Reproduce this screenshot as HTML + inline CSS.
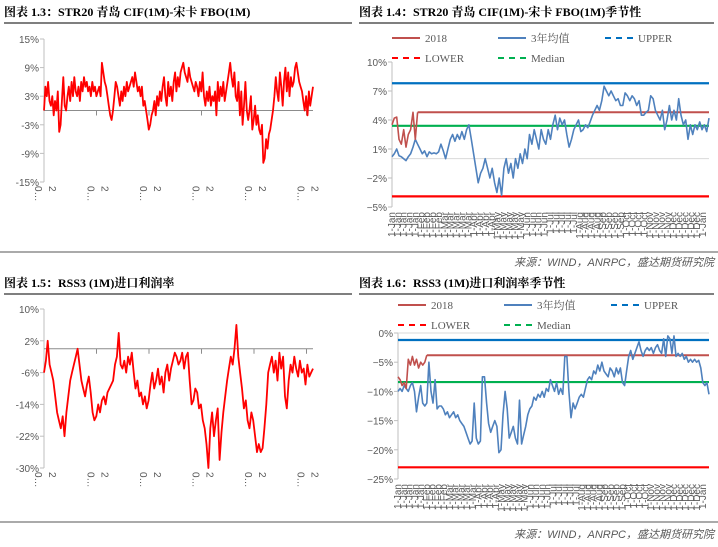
<!DOCTYPE html>
<html><head><meta charset="utf-8">
<style>
body{margin:0;background:#fff;}
svg{display:block;font-family:"Liberation Sans","Noto Sans CJK SC",sans-serif;}
.ttl{font-family:"Liberation Serif","Noto Serif CJK SC",serif;font-weight:bold;font-size:12px;fill:#000;}
.tk{font-size:10px;fill:#595959;}
.lg{font-family:"Liberation Serif","Noto Serif CJK SC",serif;font-size:11px;fill:#595959;}
.src{font-size:11px;fill:#595959;font-style:italic;}
</style></head>
<body>
<svg id="s" width="718" height="547" viewBox="0 0 718 547">
<text class="ttl" x="4" y="16">图表 1.3：STR20 青岛 CIF(1M)-宋卡 FBO(1M)</text>
<text class="ttl" x="359" y="16">图表 1.4：STR20 青岛 CIF(1M)-宋卡 FBO(1M)季节性</text>
<text class="ttl" x="4" y="287">图表 1.5：RSS3 (1M)进口利润率</text>
<text class="ttl" x="359" y="287">图表 1.6：RSS3 (1M)进口利润率季节性</text>
<line x1="4" y1="23" x2="352" y2="23" stroke="#555" stroke-width="1.5"/>
<line x1="359" y1="23" x2="714" y2="23" stroke="#555" stroke-width="1.5"/>
<line x1="4" y1="294" x2="352" y2="294" stroke="#555" stroke-width="1.5"/>
<line x1="359" y1="294" x2="714" y2="294" stroke="#555" stroke-width="1.5"/>
<line x1="0" y1="252" x2="718" y2="252" stroke="#555" stroke-width="1"/>
<line x1="0" y1="522" x2="718" y2="522" stroke="#555" stroke-width="1"/>
<text class="src" x="714" y="266" text-anchor="end">来源：WIND，ANRPC，盛达期货研究院</text>
<text class="src" x="714" y="538" text-anchor="end">来源：WIND，ANRPC，盛达期货研究院</text>
<g id="g"></g>
</svg>
<script>
const s13 = [0,5,3,6,2,1,3,-1,2,0,4,-4.5,-3,2,7,1,0,3,5,2,6,3,7,4,3,5,2,6,4,7,5,6,4,5,3,6,4,5,3,4,5,3,10,8,6,5,3,1,-1,-2,0,3,6,5,3,1,4,2,5,3,6,4,5,6,7,5,8,6,4,5,3,5,1,2,0,-2,-4,-3,-1,0,2,-1,3,1,4,2,5,7,3,1,6,3,5,2,6,8,4,7,5,8,9,10,8,7,6,9,7,6,5,4,6,5,3,6,4,8,3,1,4,2,5,1,3,2,4,-1,6,2,5,3,6,2,4,6,8,10,7,5,8,3,2,6,-1,4,-3,1,6,0,-2,0,3,-4,-2,1,-3,-1,-4,-5,-3,-11,-10,-6,-8,-5,-4,-2,0,3,7,4,2,8,5,1,6,9,4,8,3,7,5,6,9,10,8,6,5,4,2,0,3,-1,4,1,3,5];
const s15 = [-6,-3,2,-4,-6,-8,-12,-16,-18,-20,-17,-22,-16,-12,-8,-6,-4,-2,0,-4,-8,-10,-12,-9,-7,-11,-16,-18,-17,-14,-16,-13,-12,-14,-11,-10,-9,-8,-4,-2,4,-4,-5,-3,-6,-2,-4,-1,-6,-10,-8,-12,-11,-14,-12,-15,-13,-9,-6,-10,-8,-5,-9,-7,-11,-6,-4,-8,-5,-3,-1,-2,-4,-3,-1,-5,-2,-1,-8,-14,-13,-10,-11,-15,-14,-18,-20,-24,-30,-20,-16,-22,-18,-15,-28,-21,-16,-12,-8,-5,-2,-4,0,6,-2,-6,-10,-15,-13,-18,-20,-16,-18,-22,-26,-24,-26,-25,-20,-14,-6,-4,-2,-6,-3,-8,-1,-5,-2,-12,-15,-8,-4,-6,-2,-5,-7,-3,-6,-5,-9,-4,-7,-6,-5];
const avg14 = [0.2,0.5,1,0.3,0.2,0,-0.2,0.2,0.5,1.2,2,1.5,1,0.5,0.8,0.2,0.7,0.5,0.6,0.5,0.7,1.5,0.8,0,1,2,2.5,1.8,2.5,2,2.8,2,3,3.5,2,0.5,-1,-2.5,-1.5,-1,0,-1,-2,-1,-2.5,-3.5,-2,-3.8,-1,0,-1.5,-0.5,-2,0,-1,0.5,-0.5,1,0,2.5,1.5,3,2,1,3,2,1.5,3,2,3.5,4.5,3,4.2,3.5,4,2.5,1.2,2,3,3.5,4,2.8,3,3.5,3.2,3.8,4.5,5,5.5,5,6,7.5,7,6.5,7,6.5,6,6.2,5.5,5.5,6.8,6.5,6,6.5,6.2,5.5,6,4.5,4.5,4.8,5,6.5,6.2,5,4.5,4,5,3,4,5.5,4,5,4,6.2,4.5,3.5,4,2,3.5,2.5,3.5,3,3.8,3,3.5,2.8,4.2];
const y18_14 = [3.5,4.2,4.3,2,1.5,3,1.2,2.5,3,4.8,2,4.8];
const bands14 = [7.8, -3.9, 3.4];
const avg16 = [-10,-9.5,-10,-9,-9.5,-10,-9,-8.5,-10,-13.5,-11,-9,-12,-12.5,-12,-5,-10,-12,-8,-13,-12.5,-12.5,-13,-14,-13.5,-14.5,-14,-13.5,-14.5,-14,-15,-15.5,-16,-17,-18,-19,-18.5,-12,-18,-19,-18.5,-7.5,-7.5,-12,-15.5,-17,-16,-15,-16,-20.5,-20,-14,-10,-13,-18,-17,-16,-18,-19,-11.5,-19,-17.5,-16,-14,-13,-12.5,-11,-11.5,-10.5,-11,-10,-11,-9.5,-10,-8,-9,-10,-8.5,-10.5,-9.5,-10.5,-4,-4,-10,-14.5,-12,-13,-12,-11,-10.5,-11,-9.5,-8,-7.5,-8,-6.5,-7,-5.5,-6.5,-5,-6.5,-7,-7.5,-6,-6.5,-7.5,-6,-7,-6,-8.5,-9,-6.5,-4,-3,-4.5,-3.5,-2.5,-1.5,-3,-4,-3,-2.5,-3,-2.5,-3.5,-2.5,-2,-3,-3.5,-1,-4,-0.5,-1,-3.5,-0.5,-4,-3.5,-4,-3.5,-4.5,-4,-5,-4.5,-5,-4.5,-5,-4.7,-6,-8.5,-9,-8.5,-10.5];
const y18_16 = [-7.5,-8,-9,-8.5,-9.5,-4.5,-5.5,-4,-5.5,-4.5,-6,-5,-5.5,-5,-3.8];
const bands16 = [-1.2, -23, -8.4];
const ticks13 = ["15%","9%","3%","-3%","-9%","-15%"];
const ticks15 = ["10%","2%","-6%","-14%","-22%","-30%"];
const ticks14 = ["10%","7%","4%","1%","−2%","−5%"];
const ticks16 = ["0%","−5%","−10%","−15%","−20%","−25%"];
const months = ["Jan","Jan","Jan","Jan","Jan","Feb","Feb","Feb","Feb","Mar","Mar","Mar","Mar","Mar","Apr","Apr","Apr","Apr","May","May","May","May","May","Jun","Jun","Jun","Jun","Jul","Jul","Jul","Jul","Jul","Aug","Aug","Aug","Aug","Sep","Sep","Sep","Sep","Oct","Oct","Oct","Oct","Nov","Nov","Nov","Nov","Dec","Dec","Dec","Dec","Dec","Jan"];

const NS="http://www.w3.org/2000/svg", G=document.getElementById('g');
function mk(t,a){const e=document.createElementNS(NS,t);for(const k in a)e.setAttribute(k,a[k]);G.appendChild(e);return e;}
function scale(d0,d1,r0,r1){return v=>r0+(v-d0)/(d1-d0)*(r1-r0);}
function line(data,xs,ys,color,w,name,n){
  const pts=data.map((v,i)=>xs(i,n)+","+ys(v).toFixed(1)).join(" ");
  const e=mk('polyline',{points:pts,fill:'none',stroke:color,'stroke-width':w,'stroke-linejoin':'round'});
  
  
}
function yaxis(x,y0,y1,ticks,name){
  const a=mk('line',{x1:x,y1:y0,x2:x,y2:y1,stroke:'#bfbfbf'});
  
  
  ticks.forEach((t,i)=>{const y=y0+i*(y1-y0)/(ticks.length-1);
    mk('line',{x1:x-4,y1:y,x2:x,y2:y,stroke:'#bfbfbf'});
    const e=mk('text',{x:x-5,y:y+4,'text-anchor':'end',class:'tk'});e.textContent=t;
    
    });
}
function timeChart(data,x0,x1,y0,y1,dmin,dmax,ticks,zeroY,lblY,name){
  yaxis(x0,y0,y1,ticks,name);
  const ys=scale(dmax,dmin,y0,y1);
  const zy=ys(0);
  const z=mk('line',{x1:x0,y1:zy,x2:x1,y2:zy,stroke:'#8c8c8c'});
  
  
  for(let k=1;k<=5;k++){const tx=x0+k*52.5;mk('line',{x1:tx,y1:zy,x2:tx,y2:zy+5,stroke:'#8c8c8c'});}
  for(let k=0;k<6;k++){[["0…",-7],["2",7]].forEach(([t,dx])=>{
    const lx=x0+k*52.5+dx-2;const e=mk('text',{x:lx,y:lblY,class:'tk',transform:`rotate(90 ${lx} ${lblY})`});
    e.textContent=t;
    
    });}
  line(data,(i,n)=>(x0+i*(x1-x0)/(n-1)).toFixed(1),ys,'#ff0000',1.8,name+'-series',data.length);
}
timeChart(s13,44,313,39,182,-15,15,ticks13,110,186,'chart-1-3');
timeChart(s15,44,313,309,468,-30,10,ticks15,349,472,'chart-1-5');

function seasonal(avg,y18,bands,x0,x1,y0,y1,dmin,dmax,ticks,lgY,name){
  yaxis(x0,y0,y1,ticks,name);
  const ys=scale(dmax,dmin,y0,y1);
  const gz=mk('line',{x1:x0,y1:ys(0),x2:x1,y2:ys(0),stroke:'#d9d9d9'});
  
  
  const n=avg.length, xs=(i)=>(x0+i*(x1-x0)/(n-1)).toFixed(1);
  [[bands[0],'#0070c0','upper'],[bands[1],'#ff0000','lower'],[bands[2],'#00b050','median']].forEach(([v,c,nm])=>{
    const e=mk('line',{x1:x0,y1:ys(v),x2:x1,y2:ys(v),stroke:c,'stroke-width':2.2});
    
    });
  const ext=mk('line',{x1:xs(y18.length-1),y1:ys(y18[y18.length-1]),x2:x1,y2:ys(y18[y18.length-1]),stroke:'#c0504d','stroke-width':2});
  
  
  line(avg,xs,ys,'#4f81bd',1.6,name+'-3yr-avg',n);
  line(y18,xs,ys,'#c0504d',1.6,name+'-2018',n);
  months.forEach((m,i)=>{const lx=x0+3+i*(x1-x0-6)/(months.length-1);const ly=y1+5;
    const e=mk('text',{x:lx,y:ly,'text-anchor':'end',class:'tk','font-size':'9.5',transform:`rotate(-90 ${lx} ${ly})`});
    e.textContent='1-'+m;
    
    });
  const L=[[0,0,'#c0504d','','2018'],[106,0,'#4f81bd','','3年均值'],[213,0,'#0070c0','6 5','UPPER'],[0,20,'#ff0000','6 5','LOWER'],[106,20,'#00b050','6 5','Median']];
  L.forEach(([dx,dy,c,da,t])=>{const lx=x0+dx,ly=lgY+dy;
    mk('line',{x1:lx,y1:ly,x2:lx+28,y2:ly,stroke:c,'stroke-width':2,'stroke-dasharray':da});
    const e=mk('text',{x:lx+33,y:ly+4,class:'lg'});e.textContent=t;
    
    });
}
seasonal(avg14,y18_14,bands14,392,709,62,207,-5,10,ticks14,38,'chart-1-4');
seasonal(avg16,y18_16,bands16,398,709,333,479,-25,0,ticks16,305,'chart-1-6');
</script>
</body></html>
